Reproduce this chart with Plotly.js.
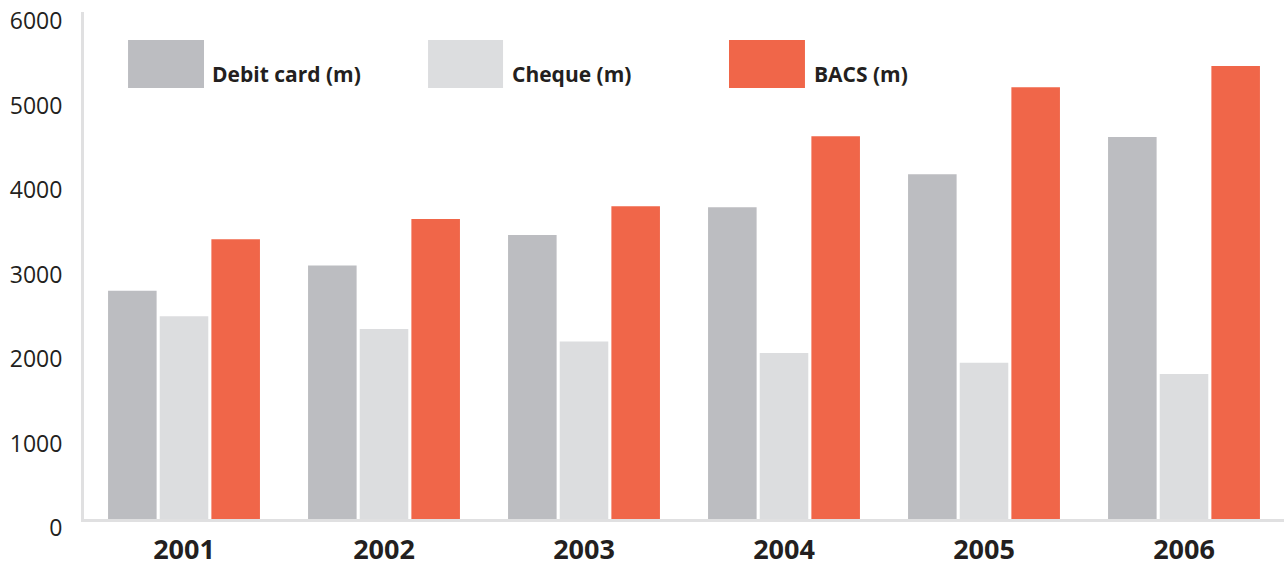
<!DOCTYPE html>
<html>
<head>
<meta charset="utf-8">
<script src="https://cdn.plot.ly/plotly-3.0.1.min.js"></script>
<style>html,body{margin:0;padding:0;background:#fff;}#chart{width:1285px;height:567px;}</style>
</head>
<body>
<div id="chart"></div>
<script>
const years = ['2001', '2002', '2003', '2004', '2005', '2006'];
const debitCard = [2700, 3000, 3360, 3690, 4080, 4520];
const cheque = [2400, 2250, 2100, 1965, 1850, 1715];
const bacs = [3310, 3550, 3700, 4530, 5110, 5360];
const seriesNames = ['Debit card (m)', 'Cheque (m)', 'BACS (m)'];
const yTicks = [0, 1000, 2000, 3000, 4000, 5000, 6000];

const colors = ['#bcbdc1', '#dcdddf', '#f06649'];
const textColor = '#231f20';
const fam = '"Open Sans", "Noto Sans", sans-serif';

const allSeries = [debitCard, cheque, bacs];
const traces = allSeries.map((vals, i) => ({
  type: 'bar',
  x: years,
  y: vals,
  name: seriesNames[i],
  marker: {color: colors[i], line: {width: 0}},
  hoverinfo: 'x+y+name'
}));

// custom legend: big swatches + bold labels
const swX = [[0.0367, 0.1], [0.2867, 0.3492], [0.5375, 0.6008]];
const txtX = [0.105, 0.355, 0.6067];
const shapes = swX.map((sx, i) => ({
  type: 'rect', xref: 'paper', yref: 'paper',
  x0: sx[0], x1: sx[1], y0: 0.8501, y1: 0.9448,
  fillcolor: colors[i], line: {width: 0}, layer: 'above'
}));
const annotations = seriesNames.map((n, i) => ({
  xref: 'paper', yref: 'paper', x: txtX[i], y: 0.8777,
  xanchor: 'left', yanchor: 'middle', showarrow: false,
  text: n, font: {family: fam, size: 21, weight: 'bold', color: textColor}
}));

const layout = {
  width: 1285, height: 567,
  margin: {l: 84, r: 1, t: 12, b: 48, pad: 0},
  paper_bgcolor: '#fff', plot_bgcolor: '#fff',
  barmode: 'group', bargap: 0.225, bargroupgap: 0.06,
  showlegend: false,
  font: {family: fam, color: textColor},
  xaxis: {
    type: 'category', showgrid: false, zeroline: false,
    showline: true, linecolor: '#e0e0e1', linewidth: 3,
    ticks: '', tickfont: {family: fam, size: 27, weight: 'bold', color: textColor},
    ticklabelstandoff: 5
  },
  yaxis: {
    range: [0, 6000], showgrid: false, zeroline: false,
    showline: true, linecolor: '#e0e0e1', linewidth: 3,
    tickmode: 'array', tickvals: yTicks, ticktext: yTicks.map(String),
    ticks: '', tickfont: {family: fam, size: 23, color: textColor},
    ticklabelstandoff: 14, ticklabelshift: 9
  },
  shapes: shapes,
  annotations: annotations
};

Plotly.newPlot('chart', traces, layout, {displayModeBar: false, staticPlot: true});
</script>
</body>
</html>
